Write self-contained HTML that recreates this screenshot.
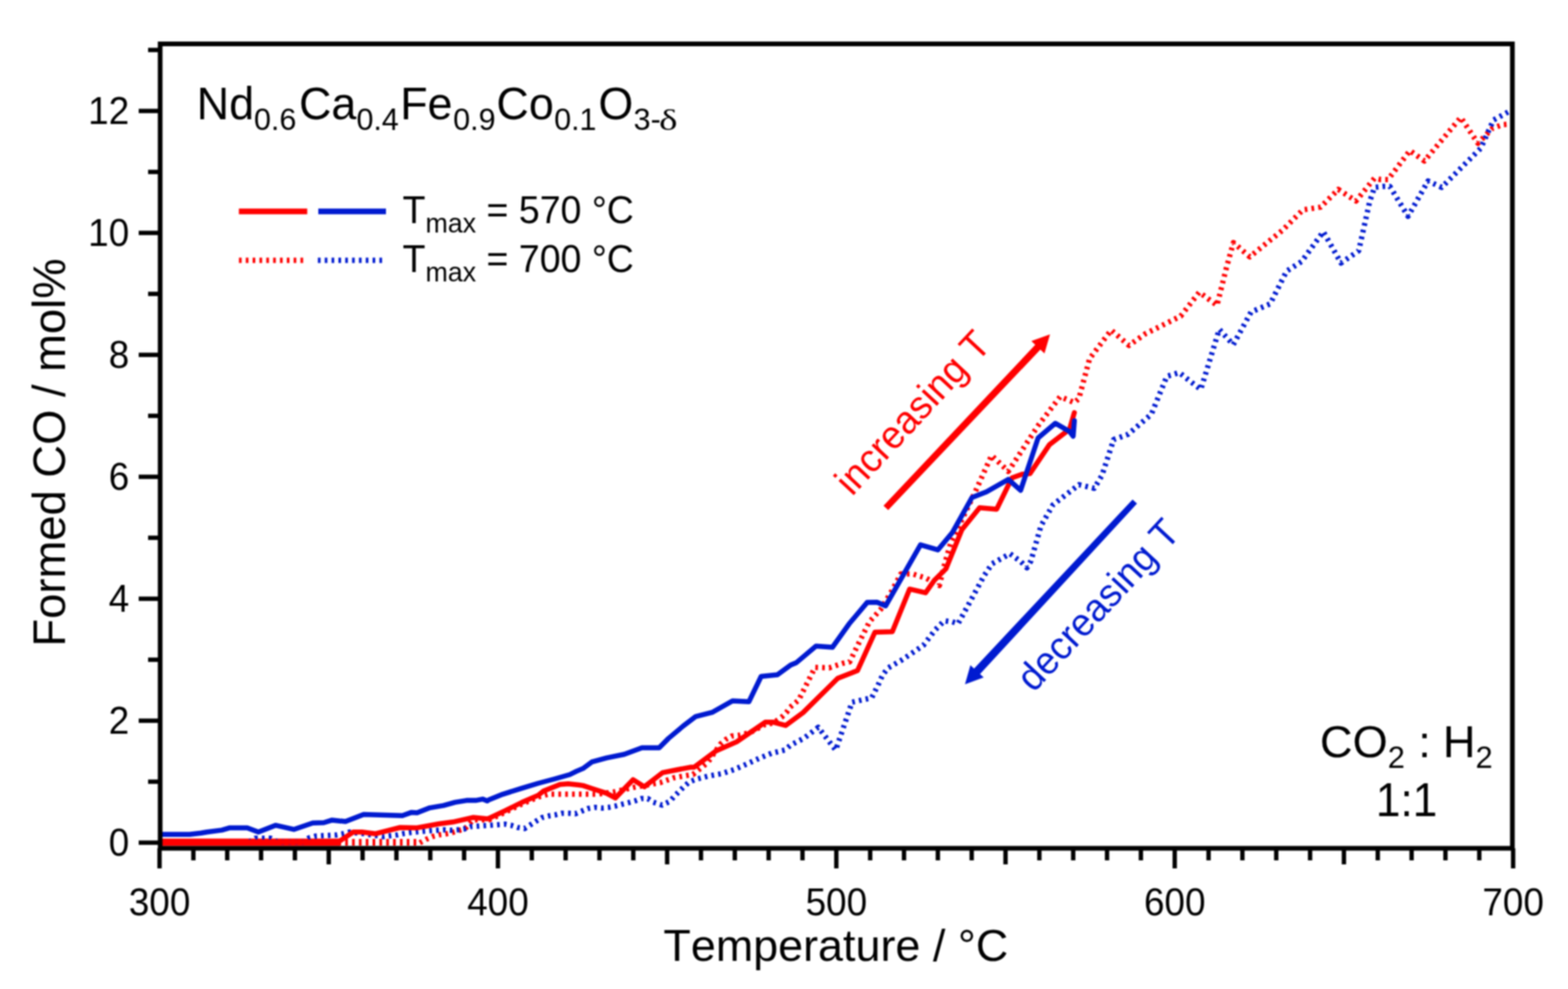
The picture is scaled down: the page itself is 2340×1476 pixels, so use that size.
<!DOCTYPE html><html><head><meta charset="utf-8"><style>html,body{margin:0;padding:0;background:#fff;overflow:hidden}svg{display:block;filter:blur(1.2px)}text{font-kerning:none;font-feature-settings:"kern" 0}</style></head><body><svg xmlns="http://www.w3.org/2000/svg" width="2340" height="1476" viewBox="0 0 2340 1476">
<rect width="2340" height="1476" fill="#fff"/>
<defs><clipPath id="c"><rect x="239" y="65" width="2018" height="1201"/></clipPath></defs>
<g clip-path="url(#c)">
<rect x="239" y="1251.5" width="268" height="11" fill="#ff0000"/>
<line x1="505" y1="1257" x2="627" y2="1257" stroke="#ff0000" stroke-width="10" stroke-dasharray="4 6.2"/>
<polyline points="626.5,1257.8 636.1,1252.7 645.0,1248.6 655.2,1245.9 665.5,1244.5 675.0,1242.5 684.0,1239.7 694.0,1236.6 706.0,1223.5 730.0,1223.5 754.4,1212.0 778.8,1200.0 803.2,1189.5 818.0,1185.3 890.6,1185.3 915.8,1182.0 945.7,1175.1 985.3,1168.0 995.0,1164.5 1004.7,1161.0 1014.4,1159.2 1024.0,1157.5 1034.2,1155.8 1056.2,1138.0 1074.9,1110.7 1083.4,1103.4 1092.0,1098.5 1102.9,1097.3 1120.0,1093.0 1142.0,1081.0 1154.0,1079.0 1166.3,1070.5 1173.7,1063.2 1178.5,1055.9 1191.8,1044.9 1216.3,996.0 1237.4,996.7 1256.9,990.2 1268.0,987.8 1282.3,958.3 1297.6,927.8 1314.5,909.2 1329.8,883.8 1344.4,856.5 1361.8,856.5 1382.4,863.0 1401.9,873.8 1408.4,846.7 1419.2,808.8 1424.7,798.0 1455.9,732.8 1479.8,679.6 1504.7,703.5 1549.2,635.2 1582.1,592.0 1603.3,600.8 1610.0,595.0 1626.1,535.2 1658.3,492.6 1684.8,515.6 1709.0,498.3 1762.0,471.8 1789.7,436.1 1816.2,455.7 1830.5,398.6 1840.7,362.0 1865.0,383.3 1913.8,343.7 1944.3,313.2 1970.8,309.1 1997.2,282.7 2023.6,300.0 2051.2,266.0 2060.7,268.0 2071.5,268.0 2104.0,224.7 2125.7,240.3 2179.9,175.2 2205.6,213.8 2227.3,191.5 2242.2,186.1 2258.0,184.7" fill="none" stroke="#ff0000" stroke-width="8" stroke-linejoin="round" stroke-dasharray="4 6.2"/>
<polyline points="372.0,1256.5 381.0,1251.0 404.0,1251.0 414.0,1256.5 452.0,1256.5 461.0,1250.5 471.0,1247.8 481.0,1247.2 491.0,1246.7 502.6,1246.0 512.0,1244.3 521.4,1241.8 545.0,1244.5 572.6,1248.6 582.7,1247.3 593.7,1245.9 603.2,1243.8 612.8,1242.5 633.3,1240.4 642.9,1239.7 652.5,1239.1 663.4,1238.4 673.7,1239.1 683.2,1238.4 693.5,1237.0 703.1,1233.6 713.3,1232.9 722.9,1232.2 732.4,1231.6 743.8,1230.8 753.6,1230.0 762.5,1231.6 772.3,1234.9 782.8,1236.5 791.8,1230.8 800.7,1225.1 808.9,1220.2 818.6,1217.8 828.4,1216.2 838.1,1213.7 849.5,1213.7 858.5,1214.5 868.2,1210.5 877.0,1206.8 887.6,1205.0 898.2,1205.9 907.9,1205.0 917.5,1203.2 927.2,1200.6 937.8,1198.0 947.5,1195.3 957.1,1191.8 966.8,1191.8 974.8,1197.1 988.0,1201.5 999.4,1196.2 1006.4,1188.3 1013.5,1181.2 1021.4,1173.3 1028.5,1167.1 1038.3,1163.2 1056.6,1158.3 1077.3,1154.6 1095.6,1148.5 1115.1,1140.0 1133.4,1131.5 1151.7,1124.1 1171.2,1119.3 1180.0,1112.0 1200.0,1101.6 1221.1,1085.4 1247.2,1119.5 1271.5,1048.0 1300.8,1041.5 1310.3,1022.6 1317.1,1007.5 1325.2,996.9 1344.2,986.0 1360.5,975.2 1378.1,963.0 1395.7,940.0 1409.2,926.4 1418.7,927.8 1420.0,927.6 1429.8,930.8 1449.2,895.0 1468.6,859.2 1480.5,841.3 1507.3,826.4 1523.7,838.4 1532.6,847.3 1538.6,836.9 1553.5,784.7 1571.5,753.3 1610.3,723.3 1633.0,728.8 1644.5,709.5 1662.0,656.0 1683.7,648.1 1718.2,618.2 1741.3,561.7 1759.7,556.0 1792.0,581.3 1819.6,491.4 1840.4,514.5 1867.0,465.7 1895.5,453.5 1920.0,404.7 1942.3,390.4 1974.8,345.7 2001.3,392.5 2027.7,374.2 2044.0,301.0 2051.2,279.6 2063.4,278.2 2074.2,278.2 2101.3,322.9 2131.1,270.1 2151.4,279.6 2209.7,221.3 2228.7,179.3 2258.0,163.0" fill="none" stroke="#001ad0" stroke-width="8" stroke-linejoin="round" stroke-dasharray="4 6.2"/>
<polyline points="238.5,1256.5 505.0,1256.5 527.0,1241.8 540.2,1241.8 559.8,1244.3 597.1,1235.0 621.0,1235.6 655.2,1229.5 675.7,1226.8 706.5,1219.9 727.0,1222.0 730.0,1221.1 754.4,1209.7 778.8,1197.5 803.2,1186.9 811.3,1180.4 835.7,1170.7 847.9,1169.8 864.1,1171.5 870.0,1172.4 883.2,1176.8 905.2,1183.9 918.4,1190.9 944.8,1163.6 961.5,1174.2 988.8,1153.1 1010.8,1148.7 1030.0,1145.1 1035.9,1144.9 1068.8,1120.5 1099.3,1107.1 1142.0,1077.8 1154.1,1077.8 1172.4,1082.7 1198.5,1063.5 1250.4,1012.2 1279.7,1000.8 1305.7,943.5 1331.7,942.7 1357.5,879.2 1381.3,884.7 1394.3,866.2 1411.7,848.9 1435.5,790.4 1462.0,757.7 1487.4,759.9 1510.1,713.3 1525.3,707.8 1537.2,706.7 1566.3,663.4 1596.2,640.5 1603.3,615.8" fill="none" stroke="#ff0000" stroke-width="7.5" stroke-linejoin="round" stroke-linecap="round"/>
<polyline points="238.5,1245.3 283.0,1245.3 300.0,1243.3 308.9,1241.7 331.1,1238.9 342.2,1235.6 368.9,1235.6 385.6,1241.7 411.1,1231.7 438.9,1237.8 466.7,1228.3 483.3,1227.8 495.6,1223.9 515.6,1226.1 542.7,1215.6 600.5,1217.2 614.2,1212.4 622.4,1213.1 641.5,1205.6 662.0,1202.1 679.1,1197.4 696.2,1194.6 709.9,1194.6 720.2,1192.6 727.0,1195.3 730.0,1193.4 750.3,1185.3 778.8,1176.3 803.2,1169.0 827.6,1162.5 850.3,1156.0 860.1,1151.1 870.0,1146.9 883.2,1137.2 905.2,1131.1 931.6,1125.8 958.0,1116.1 983.6,1116.1 997.6,1102.0 1019.6,1083.5 1038.3,1069.3 1062.7,1063.2 1093.2,1046.1 1117.6,1047.3 1135.9,1009.5 1160.2,1007.1 1180.0,992.4 1188.4,989.0 1217.9,964.2 1242.3,966.0 1267.1,931.2 1294.2,899.0 1308.7,898.8 1321.7,904.2 1373.7,813.1 1399.7,820.7 1421.4,794.7 1450.5,742.5 1472.2,733.9 1504.7,715.4 1523.1,731.7 1549.2,653.6 1575.0,631.7 1596.2,644.0 1601.5,651.0 1603.3,628.1" fill="none" stroke="#001ad0" stroke-width="7.5" stroke-linejoin="round" stroke-linecap="round"/>
</g>
<rect x="239" y="65.5" width="2018" height="1200.5" fill="none" stroke="#000" stroke-width="7"/>
<line x1="207" y1="1257.6" x2="239" y2="1257.6" stroke="#000" stroke-width="6.5"/>
<line x1="221" y1="1166.6" x2="239" y2="1166.6" stroke="#000" stroke-width="6.5"/>
<line x1="207" y1="1075.6" x2="239" y2="1075.6" stroke="#000" stroke-width="6.5"/>
<line x1="221" y1="984.6" x2="239" y2="984.6" stroke="#000" stroke-width="6.5"/>
<line x1="207" y1="893.6" x2="239" y2="893.6" stroke="#000" stroke-width="6.5"/>
<line x1="221" y1="802.6" x2="239" y2="802.6" stroke="#000" stroke-width="6.5"/>
<line x1="207" y1="711.6" x2="239" y2="711.6" stroke="#000" stroke-width="6.5"/>
<line x1="221" y1="620.6" x2="239" y2="620.6" stroke="#000" stroke-width="6.5"/>
<line x1="207" y1="529.6" x2="239" y2="529.6" stroke="#000" stroke-width="6.5"/>
<line x1="221" y1="438.6" x2="239" y2="438.6" stroke="#000" stroke-width="6.5"/>
<line x1="207" y1="347.6" x2="239" y2="347.6" stroke="#000" stroke-width="6.5"/>
<line x1="221" y1="256.6" x2="239" y2="256.6" stroke="#000" stroke-width="6.5"/>
<line x1="207" y1="165.6" x2="239" y2="165.6" stroke="#000" stroke-width="6.5"/>
<line x1="221" y1="74.6" x2="239" y2="74.6" stroke="#000" stroke-width="6.5"/>
<line x1="238.1" y1="1266" x2="238.1" y2="1296" stroke="#000" stroke-width="6.5"/>
<line x1="288.6" y1="1266" x2="288.6" y2="1284" stroke="#000" stroke-width="6.5"/>
<line x1="339.1" y1="1266" x2="339.1" y2="1284" stroke="#000" stroke-width="6.5"/>
<line x1="389.6" y1="1266" x2="389.6" y2="1284" stroke="#000" stroke-width="6.5"/>
<line x1="440.1" y1="1266" x2="440.1" y2="1284" stroke="#000" stroke-width="6.5"/>
<line x1="490.6" y1="1266" x2="490.6" y2="1290" stroke="#000" stroke-width="6.5"/>
<line x1="541.1" y1="1266" x2="541.1" y2="1284" stroke="#000" stroke-width="6.5"/>
<line x1="591.6" y1="1266" x2="591.6" y2="1284" stroke="#000" stroke-width="6.5"/>
<line x1="642.1" y1="1266" x2="642.1" y2="1284" stroke="#000" stroke-width="6.5"/>
<line x1="692.6" y1="1266" x2="692.6" y2="1284" stroke="#000" stroke-width="6.5"/>
<line x1="743.1" y1="1266" x2="743.1" y2="1296" stroke="#000" stroke-width="6.5"/>
<line x1="793.6" y1="1266" x2="793.6" y2="1284" stroke="#000" stroke-width="6.5"/>
<line x1="844.1" y1="1266" x2="844.1" y2="1284" stroke="#000" stroke-width="6.5"/>
<line x1="894.6" y1="1266" x2="894.6" y2="1284" stroke="#000" stroke-width="6.5"/>
<line x1="945.1" y1="1266" x2="945.1" y2="1284" stroke="#000" stroke-width="6.5"/>
<line x1="995.6" y1="1266" x2="995.6" y2="1290" stroke="#000" stroke-width="6.5"/>
<line x1="1046.1" y1="1266" x2="1046.1" y2="1284" stroke="#000" stroke-width="6.5"/>
<line x1="1096.6" y1="1266" x2="1096.6" y2="1284" stroke="#000" stroke-width="6.5"/>
<line x1="1147.1" y1="1266" x2="1147.1" y2="1284" stroke="#000" stroke-width="6.5"/>
<line x1="1197.6" y1="1266" x2="1197.6" y2="1284" stroke="#000" stroke-width="6.5"/>
<line x1="1248.1" y1="1266" x2="1248.1" y2="1296" stroke="#000" stroke-width="6.5"/>
<line x1="1298.6" y1="1266" x2="1298.6" y2="1284" stroke="#000" stroke-width="6.5"/>
<line x1="1349.1" y1="1266" x2="1349.1" y2="1284" stroke="#000" stroke-width="6.5"/>
<line x1="1399.6" y1="1266" x2="1399.6" y2="1284" stroke="#000" stroke-width="6.5"/>
<line x1="1450.1" y1="1266" x2="1450.1" y2="1284" stroke="#000" stroke-width="6.5"/>
<line x1="1500.6" y1="1266" x2="1500.6" y2="1290" stroke="#000" stroke-width="6.5"/>
<line x1="1551.1" y1="1266" x2="1551.1" y2="1284" stroke="#000" stroke-width="6.5"/>
<line x1="1601.6" y1="1266" x2="1601.6" y2="1284" stroke="#000" stroke-width="6.5"/>
<line x1="1652.1" y1="1266" x2="1652.1" y2="1284" stroke="#000" stroke-width="6.5"/>
<line x1="1702.6" y1="1266" x2="1702.6" y2="1284" stroke="#000" stroke-width="6.5"/>
<line x1="1753.1" y1="1266" x2="1753.1" y2="1296" stroke="#000" stroke-width="6.5"/>
<line x1="1803.6" y1="1266" x2="1803.6" y2="1284" stroke="#000" stroke-width="6.5"/>
<line x1="1854.1" y1="1266" x2="1854.1" y2="1284" stroke="#000" stroke-width="6.5"/>
<line x1="1904.6" y1="1266" x2="1904.6" y2="1284" stroke="#000" stroke-width="6.5"/>
<line x1="1955.1" y1="1266" x2="1955.1" y2="1284" stroke="#000" stroke-width="6.5"/>
<line x1="2005.6" y1="1266" x2="2005.6" y2="1290" stroke="#000" stroke-width="6.5"/>
<line x1="2056.1" y1="1266" x2="2056.1" y2="1284" stroke="#000" stroke-width="6.5"/>
<line x1="2106.6" y1="1266" x2="2106.6" y2="1284" stroke="#000" stroke-width="6.5"/>
<line x1="2157.1" y1="1266" x2="2157.1" y2="1284" stroke="#000" stroke-width="6.5"/>
<line x1="2207.6" y1="1266" x2="2207.6" y2="1284" stroke="#000" stroke-width="6.5"/>
<line x1="2258.1" y1="1266" x2="2258.1" y2="1296" stroke="#000" stroke-width="6.5"/>
<text transform="translate(192.80,1277.10) scale(1.0,1.04)" text-anchor="end" font-family="'Liberation Sans',Arial,Helvetica,sans-serif" font-size="55" fill="#000">0</text>
<text transform="translate(192.80,1095.10) scale(1.0,1.04)" text-anchor="end" font-family="'Liberation Sans',Arial,Helvetica,sans-serif" font-size="55" fill="#000">2</text>
<text transform="translate(192.80,913.10) scale(1.0,1.04)" text-anchor="end" font-family="'Liberation Sans',Arial,Helvetica,sans-serif" font-size="55" fill="#000">4</text>
<text transform="translate(192.80,731.10) scale(1.0,1.04)" text-anchor="end" font-family="'Liberation Sans',Arial,Helvetica,sans-serif" font-size="55" fill="#000">6</text>
<text transform="translate(192.80,549.10) scale(1.0,1.04)" text-anchor="end" font-family="'Liberation Sans',Arial,Helvetica,sans-serif" font-size="55" fill="#000">8</text>
<text transform="translate(192.80,367.10) scale(1.0,1.04)" text-anchor="end" font-family="'Liberation Sans',Arial,Helvetica,sans-serif" font-size="55" fill="#000">10</text>
<text transform="translate(192.80,185.10) scale(1.0,1.04)" text-anchor="end" font-family="'Liberation Sans',Arial,Helvetica,sans-serif" font-size="55" fill="#000">12</text>
<text transform="translate(238.10,1365.80) scale(1.0,1.04)" text-anchor="middle" font-family="'Liberation Sans',Arial,Helvetica,sans-serif" font-size="55" fill="#000">300</text>
<text transform="translate(743.10,1365.80) scale(1.0,1.04)" text-anchor="middle" font-family="'Liberation Sans',Arial,Helvetica,sans-serif" font-size="55" fill="#000">400</text>
<text transform="translate(1248.10,1365.80) scale(1.0,1.04)" text-anchor="middle" font-family="'Liberation Sans',Arial,Helvetica,sans-serif" font-size="55" fill="#000">500</text>
<text transform="translate(1753.10,1365.80) scale(1.0,1.04)" text-anchor="middle" font-family="'Liberation Sans',Arial,Helvetica,sans-serif" font-size="55" fill="#000">600</text>
<text transform="translate(2258.10,1365.80) scale(1.0,1.04)" text-anchor="middle" font-family="'Liberation Sans',Arial,Helvetica,sans-serif" font-size="55" fill="#000">700</text>
<text transform="translate(990.00,1433.70)" font-family="'Liberation Sans',Arial,Helvetica,sans-serif" font-size="67" fill="#000">Temperature / °C</text>
<text transform="translate(96.60,964.90) rotate(-90)" font-family="'Liberation Sans',Arial,Helvetica,sans-serif" font-size="67.7" fill="#000">Formed CO / mol%</text>
<text transform="translate(293.60,178.00) scale(1.0,1.02)" font-family="'Liberation Sans',Arial,Helvetica,sans-serif" font-size="67" fill="#000">Nd</text>
<text transform="translate(446.20,178.00) scale(1.0,1.02)" font-family="'Liberation Sans',Arial,Helvetica,sans-serif" font-size="67" fill="#000">Ca</text>
<text transform="translate(597.20,178.00) scale(1.0,1.02)" font-family="'Liberation Sans',Arial,Helvetica,sans-serif" font-size="67" fill="#000">Fe</text>
<text transform="translate(740.80,178.00) scale(1.0,1.02)" font-family="'Liberation Sans',Arial,Helvetica,sans-serif" font-size="67" fill="#000">Co</text>
<text transform="translate(893.00,178.00) scale(1.0,1.02)" font-family="'Liberation Sans',Arial,Helvetica,sans-serif" font-size="67" fill="#000">O</text>
<text transform="translate(379.00,193.80)" font-family="'Liberation Sans',Arial,Helvetica,sans-serif" font-size="45.5" fill="#000">0.6</text>
<text transform="translate(531.90,193.80)" font-family="'Liberation Sans',Arial,Helvetica,sans-serif" font-size="45.5" fill="#000">0.4</text>
<text transform="translate(676.20,193.80)" font-family="'Liberation Sans',Arial,Helvetica,sans-serif" font-size="45.5" fill="#000">0.9</text>
<text transform="translate(826.90,193.80)" font-family="'Liberation Sans',Arial,Helvetica,sans-serif" font-size="45.5" fill="#000">0.1</text>
<text transform="translate(945.60,193.80)" font-family="'Liberation Sans',Arial,Helvetica,sans-serif" font-size="45.5" fill="#000">3-</text>
<text transform="translate(983.50,194.40) scale(1.3,1.0)" font-family="'Liberation Serif','Times New Roman',serif" font-size="45" fill="#000">δ</text>
<line x1="356.5" y1="315.6" x2="458.5" y2="315.6" stroke="#ff0000" stroke-width="8.5"/>
<line x1="475" y1="315.6" x2="576" y2="315.6" stroke="#001ad0" stroke-width="8.5"/>
<line x1="356.6" y1="388.5" x2="453.2" y2="388.5" stroke="#ff0000" stroke-width="8" stroke-dasharray="4 6.2"/>
<line x1="474.4" y1="388.5" x2="571" y2="388.5" stroke="#001ad0" stroke-width="8" stroke-dasharray="4 6.2"/>
<text transform="translate(600.7,333.0) scale(1,1.02)" font-family="'Liberation Sans',Arial,Helvetica,sans-serif" font-size="56">T<tspan dy="13.9" font-size="40">max</tspan><tspan dy="-13.9"> = 570 °C</tspan></text>
<text transform="translate(600.7,405.8) scale(1,1.02)" font-family="'Liberation Sans',Arial,Helvetica,sans-serif" font-size="56">T<tspan dy="13.9" font-size="40">max</tspan><tspan dy="-13.9"> = 700 °C</tspan></text>
<text transform="translate(1969.80,1130.00)" font-family="'Liberation Sans',Arial,Helvetica,sans-serif" font-size="67.5" fill="#000">CO</text>
<text transform="translate(2070.90,1145.50)" font-family="'Liberation Sans',Arial,Helvetica,sans-serif" font-size="46" fill="#000">2</text>
<text transform="translate(2116.40,1130.00)" font-family="'Liberation Sans',Arial,Helvetica,sans-serif" font-size="67.5" fill="#000">:</text>
<text transform="translate(2153.20,1130.00)" font-family="'Liberation Sans',Arial,Helvetica,sans-serif" font-size="67.5" fill="#000">H</text>
<text transform="translate(2202.10,1145.50)" font-family="'Liberation Sans',Arial,Helvetica,sans-serif" font-size="46" fill="#000">2</text>
<text transform="translate(2099.20,1218.10) scale(1.0,1.065)" text-anchor="middle" font-family="'Liberation Sans',Arial,Helvetica,sans-serif" font-size="66" fill="#000">1:1</text>
<polygon points="1325.5,761.3 1554.0,520.3 1546.4,513.1 1318.5,754.7" fill="#ff0000"/><polygon points="1567.0,499.0 1558.7,527.5 1539.1,508.9" fill="#ff0000"/>
<polygon points="1690.2,745.4 1452.3,999.3 1461.1,1007.5 1696.8,751.6" fill="#001ad0"/><polygon points="1440.1,1021.3 1448.2,992.8 1468.0,1011.1" fill="#001ad0"/>
<text transform="translate(1271.40,741.70) rotate(-47) scale(1.0,1.04)" font-family="'Liberation Sans',Arial,Helvetica,sans-serif" font-size="56.5" fill="#ff0000">increasing T</text>
<text transform="translate(1542.40,1034.80) rotate(-47) scale(1.0,1.04)" font-family="'Liberation Sans',Arial,Helvetica,sans-serif" font-size="56.1" fill="#001ad0">decreasing T</text>
</svg></body></html>
